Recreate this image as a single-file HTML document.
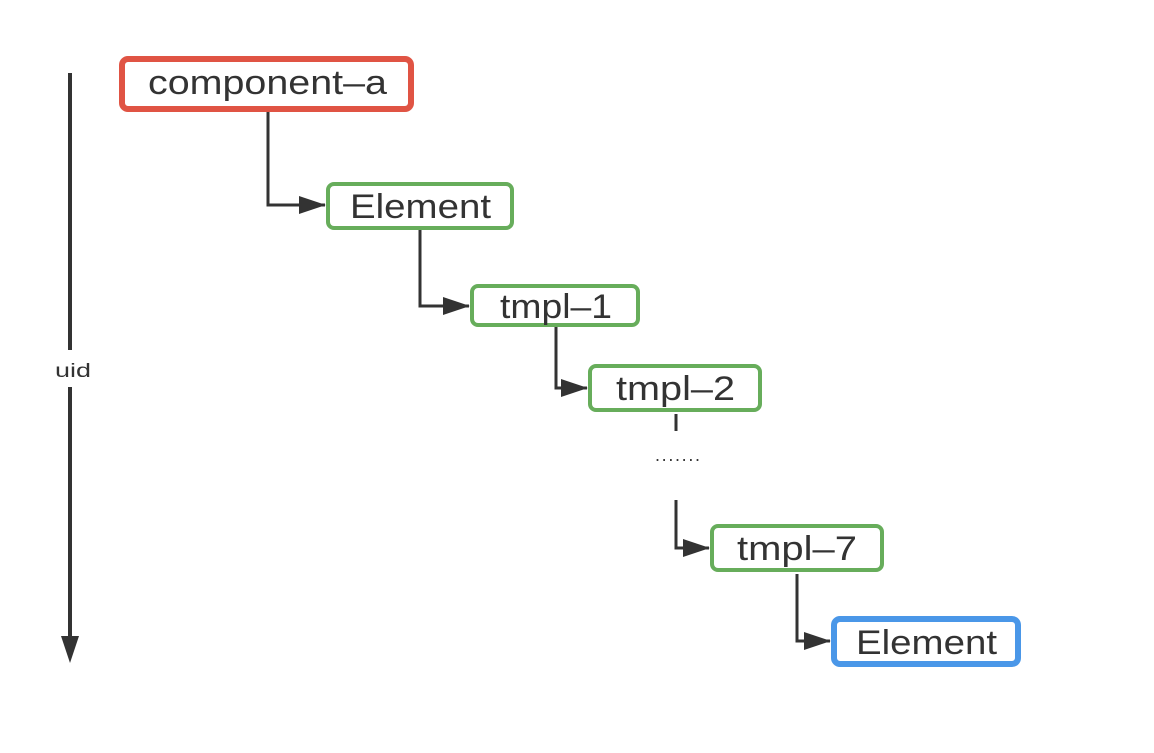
<!DOCTYPE html>
<html><head><meta charset="utf-8"><style>
html,body{margin:0;padding:0;background:#fff;}
svg text{font-family:"Liberation Sans",sans-serif;fill:#333;}
</style></head><body>
<svg width="1154" height="748" viewBox="0 0 1154 748" xmlns="http://www.w3.org/2000/svg">
<defs>
<marker id="ar" markerWidth="9" markerHeight="6" refX="8.7" refY="3" orient="auto" markerUnits="strokeWidth">
<path d="M0,0 L9,3 L0,6 z" fill="#333"/>
</marker>
</defs>
<g stroke="#333" stroke-width="3" fill="none">
<line x1="70" y1="73" x2="70" y2="350" stroke-width="4"/>
<line x1="70" y1="387" x2="70" y2="640" stroke-width="4"/>
<polyline points="268,111 268,205 325,205" marker-end="url(#ar)"/>
<polyline points="420,229 420,306 469,306" marker-end="url(#ar)"/>
<polyline points="556,326 556,388 587,388" marker-end="url(#ar)"/>
<line x1="676" y1="414" x2="676" y2="431"/>
<polyline points="676,500 676,548 709,548" marker-end="url(#ar)"/>
<polyline points="797,574 797,641 830,641" marker-end="url(#ar)"/>
</g>
<path d="M61,636 L79,636 L70,663 z" fill="#333"/>
<text x="55" y="377" font-size="19" textLength="36" lengthAdjust="spacingAndGlyphs">uid</text>
<text x="655" y="461" font-size="18" textLength="45" lengthAdjust="spacing">.......</text>
<rect x="122" y="59" width="289" height="50" rx="6" fill="#fff" stroke="#e05444" stroke-width="6"/>
<text x="148" y="94" font-size="34" textLength="239" lengthAdjust="spacingAndGlyphs">component–a</text>
<rect x="328" y="184" width="184" height="44" rx="6" fill="#fff" stroke="#67ad5b" stroke-width="4"/>
<text x="350" y="218" font-size="34" textLength="141" lengthAdjust="spacingAndGlyphs">Element</text>
<rect x="472" y="286" width="166" height="39" rx="6" fill="#fff" stroke="#67ad5b" stroke-width="4"/>
<text x="500" y="318" font-size="34" textLength="112" lengthAdjust="spacingAndGlyphs">tmpl–1</text>
<rect x="590" y="366" width="170" height="44" rx="6" fill="#fff" stroke="#67ad5b" stroke-width="4"/>
<text x="616" y="400" font-size="34" textLength="119" lengthAdjust="spacingAndGlyphs">tmpl–2</text>
<rect x="712" y="526" width="170" height="44" rx="6" fill="#fff" stroke="#67ad5b" stroke-width="4"/>
<text x="737" y="560" font-size="34" textLength="120" lengthAdjust="spacingAndGlyphs">tmpl–7</text>
<rect x="834" y="619" width="184" height="45" rx="6" fill="#fff" stroke="#4a97e8" stroke-width="6"/>
<text x="856" y="654" font-size="34" textLength="141" lengthAdjust="spacingAndGlyphs">Element</text>
</svg>
</body></html>
